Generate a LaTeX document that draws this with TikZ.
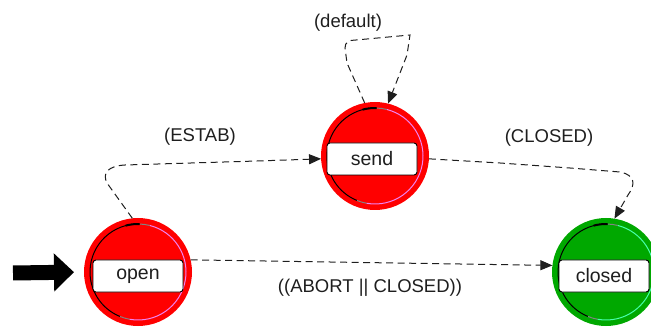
\documentclass[tikz,border=0pt]{standalone}
\usepackage{fontspec}
\setmainfont{Liberation Sans}
\usetikzlibrary{arrows.meta}
\definecolor{ringred}{RGB}{255,0,0}
\definecolor{ringgreen}{RGB}{0,168,0}
\definecolor{rimpink}{RGB}{240,130,240}
\definecolor{rimmint}{RGB}{70,255,170}
\definecolor{rimgray}{RGB}{130,130,130}
\definecolor{ink}{RGB}{30,30,30}
\tikzset{
  statering/.style={circle, minimum size=108pt, inner sep=0pt, outer sep=0pt, fill=#1},
  namebox/.style={rectangle, rounded corners=3pt, draw=black, line width=0.9pt, fill=white,
    minimum width=90pt, minimum height=32pt, inner sep=0pt,
    font=\fontsize{19.5}{21}\selectfont, text=ink},
  trans/.style={draw=ink, line width=1pt, dash pattern=on 7pt off 4.5pt,
    -{Triangle[length=12pt,width=10pt]}},
  translabel/.style={font=\fontsize{18.5}{20}\selectfont, text=ink, inner sep=0pt},
  rim/.style={line width=1pt}
}
\begin{document}
\begin{tikzpicture}[x=1pt,y=1pt]
\useasboundingbox (0,0) rectangle (651,327);
\clip (0,0) rectangle (651,327);

% states
\node[statering=ringred]   (open)   at (138,55)  {};
\node[statering=ringred]   (send)   at (375,171) {};
\node[statering=ringgreen] (closed) at (606,55)  {};

% inner rims: dark on the left, light on the right
\foreach \s/\lt in {open/rimpink, send/rimpink, closed/rimmint}{
  \draw[rim, black]  ([shift={(88:48pt)}]\s.center)  arc[start angle=88,  end angle=248, radius=48pt];
  \draw[rim, rimgray]([shift={(248:48pt)}]\s.center) arc[start angle=248, end angle=260, radius=48pt];
  \draw[rim, \lt]    ([shift={(260:48pt)}]\s.center) arc[start angle=260, end angle=436, radius=48pt];
  \draw[rim, rimgray]([shift={(76:48pt)}]\s.center)  arc[start angle=76,  end angle=88,  radius=48pt];
  \draw[line width=2pt, black]([shift={(88:48pt)}]\s.center) arc[start angle=88, end angle=105, radius=48pt];
}

% state names
\node[namebox] (openbox)   at (138,51)  {open};
\node[namebox] (sendbox)   at (372,168) {send};
\node[namebox] (closedbox) at (604,51)  {closed};

% initial-state arrow
\coordinate (entry) at (13,54);
\draw[line width=15pt, black, shorten >=10pt, -{Triangle[length=20pt,width=37pt]}] (entry) -- (open.west);

% transitions
\draw[trans] (open.96) -- (107,144) .. controls (102,154) and (108,161) .. (125,162)
  -- (257,166) -- (send.183);
\node[translabel] (lestab) at (200,190) {(ESTAB)};

\draw[trans] (send.101) -- (347,264) -- (345,279) .. controls (345,285) and (349,287) .. (356,287)
  -- (410,292) -- (407,272) -- (send.76);
\node[translabel] (ldefault) at (348,304) {(default)};

\draw[trans] (send.357) -- (500,164) -- (570,159) -- (620,155)
  .. controls (635,152) and (636,143) .. (628,132) -- (closed.81);
\node[translabel] (lclosed) at (549,189) {(CLOSED)};

\draw[trans] (open.13) -- (closed.173);
\node[translabel] (labort) at (370,39) {((ABORT || CLOSED))};
\end{tikzpicture}
\end{document}
